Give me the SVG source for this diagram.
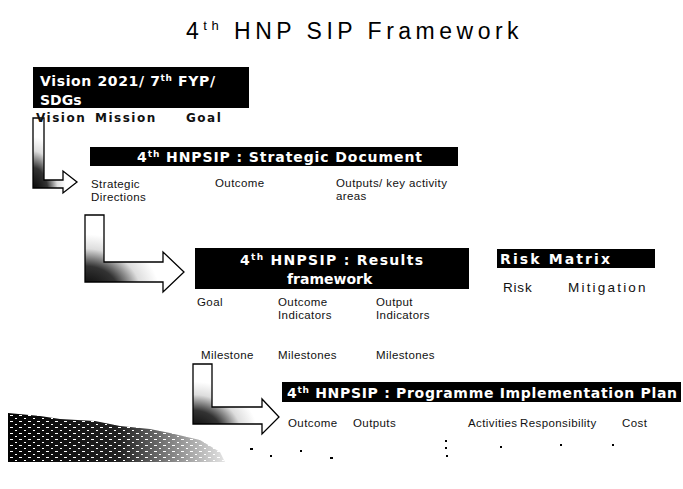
<svg xmlns="http://www.w3.org/2000/svg" width="683" height="489" viewBox="0 0 683 489">
<style>
text{font-family:"Liberation Sans",Arial,sans-serif;}
.hd{fill:#fff;font-family:"DejaVu Sans",Verdana,sans-serif;font-weight:bold;font-size:14px;}
.sm{fill:#111;font-size:11.5px;letter-spacing:0.4px;}
.md{fill:#111;font-family:"DejaVu Sans",Verdana,sans-serif;font-size:12px;font-weight:bold;letter-spacing:1.5px;}
.box{fill:#000;}
.arr{stroke:#000;stroke-width:1.3;}
</style>
<defs>
<radialGradient id="ag" cx="0" cy="1" r="0.75" gradientUnits="objectBoundingBox">
<stop offset="0" stop-color="#000"/>
<stop offset="0.45" stop-color="#333"/>
<stop offset="0.75" stop-color="#ddd"/>
<stop offset="1" stop-color="#fff"/>
</radialGradient>
<pattern id="sp" width="9" height="6" patternUnits="userSpaceOnUse">
<rect width="9" height="6" fill="#000"/>
<rect x="1" y="1" width="3" height="1" fill="#fff"/>
<rect x="6" y="4" width="2" height="1" fill="#fff"/>
</pattern>
<linearGradient id="fadeg" gradientUnits="userSpaceOnUse" x1="0" y1="0" x2="240" y2="0">
<stop offset="0" stop-color="#fff"/>
<stop offset="0.5" stop-color="#ddd"/>
<stop offset="0.8" stop-color="#555"/>
<stop offset="1" stop-color="#000"/>
</linearGradient>
<mask id="fm"><rect x="0" y="400" width="300" height="70" fill="url(#fadeg)"/></mask>
</defs>
<rect width="683" height="489" fill="#fff"/>

<text x="186" y="39" font-size="23" fill="#000" letter-spacing="4.5">4<tspan font-size="13" dy="-9">th</tspan><tspan dy="9"> HNP SIP Framework</tspan></text>

<g id="noise">
<polygon points="8,413 40,416 60,419 95,421 120,426 150,429 170,433 200,440 220,452 225,462 8,462" fill="url(#sp)" mask="url(#fm)"/>
<g fill="#000">
<rect x="250" y="448" width="3" height="2"/><rect x="270" y="455" width="2" height="2"/>
<rect x="300" y="450" width="2" height="2"/><rect x="330" y="457" width="3" height="2"/>
<rect x="445" y="440" width="2" height="2"/><rect x="445" y="447" width="2" height="2"/>
<rect x="446" y="455" width="2" height="2"/><rect x="500" y="446" width="2" height="2"/>
<rect x="560" y="444" width="2" height="2"/><rect x="612" y="444" width="2" height="2"/>
</g>
</g>

<g id="connectors">
<path class="arr" fill="url(#ag)" d="M33,118 H44 V180 H63 V171 L77,182 L63,193 V188 H33 Z"/>
<path class="arr" fill="url(#ag)" d="M85,215 H104 V262 H163 V252 L184,272 L163,292 V282 H85 Z"/>
<path class="arr" fill="url(#ag)" d="M193,364 H212 V407 H262 V399 L279,417 L262,434 V424 H193 Z"/>
</g>

<g id="vision">
<rect class="box" x="33" y="67" width="216" height="41"/>
<text class="hd" x="40" y="86" textLength="175" lengthAdjust="spacing">Vision 2021/  7<tspan font-size="9" dy="-5">th</tspan><tspan dy="5"> FYP/</tspan></text>
<text class="hd" x="40" y="105">SDGs</text>
<text class="md" x="36" y="122">Vision</text>
<text class="md" x="95" y="122">Mission</text>
<text class="md" x="186" y="122">Goal</text>
</g>

<g id="strategic">
<rect class="box" x="90" y="147" width="368" height="19"/>
<text class="hd" x="137" y="162" font-size="13.5" textLength="285" lengthAdjust="spacing">4<tspan font-size="9" dy="-5">th</tspan><tspan dy="5"> HNPSIP :   Strategic Document</tspan></text>
<text class="sm" x="91" y="188">Strategic</text>
<text class="sm" x="91" y="201">Directions</text>
<text class="sm" x="215" y="187">Outcome</text>
<text class="sm" x="336" y="187" letter-spacing="0.8">Outputs/ key activity</text>
<text class="sm" x="336" y="200">areas</text>
</g>

<g id="results">
<rect class="box" x="195" y="248" width="274" height="41"/>
<text class="hd" x="240" y="265" font-size="15" textLength="183" lengthAdjust="spacing">4<tspan font-size="9" dy="-5">th</tspan><tspan dy="5"> HNPSIP : Results</tspan></text>
<text class="hd" x="287" y="284" font-size="15">framework</text>
<text class="sm" x="197" y="306">Goal</text>
<text class="sm" x="278" y="306">Outcome</text>
<text class="sm" x="278" y="319">Indicators</text>
<text class="sm" x="376" y="306">Output</text>
<text class="sm" x="376" y="319">Indicators</text>
<text class="sm" x="201" y="359">Milestone</text>
<text class="sm" x="278" y="359">Milestones</text>
<text class="sm" x="376" y="359">Milestones</text>
</g>

<g id="risk">
<rect class="box" x="497" y="249" width="158" height="19"/>
<text class="hd" x="500" y="264" font-size="15" textLength="110" lengthAdjust="spacing">Risk Matrix</text>
<text x="503" y="292" font-size="13.5" fill="#111" letter-spacing="0.8">Risk</text>
<text x="568" y="292" font-size="13.5" fill="#111" letter-spacing="2.2">Mitigation</text>
</g>

<g id="plan">
<rect class="box" x="282" y="382" width="399" height="20"/>
<text class="hd" x="287" y="398" font-size="15" textLength="390" lengthAdjust="spacing">4<tspan font-size="9" dy="-5">th</tspan><tspan dy="5"> HNPSIP : Programme Implementation Plan</tspan></text>
<text class="sm" x="288" y="427">Outcome</text>
<text class="sm" x="353" y="427">Outputs</text>
<text class="sm" x="468" y="427">Activities</text>
<text class="sm" x="520" y="427">Responsibility</text>
<text class="sm" x="622" y="427">Cost</text>
</g>
</svg>
